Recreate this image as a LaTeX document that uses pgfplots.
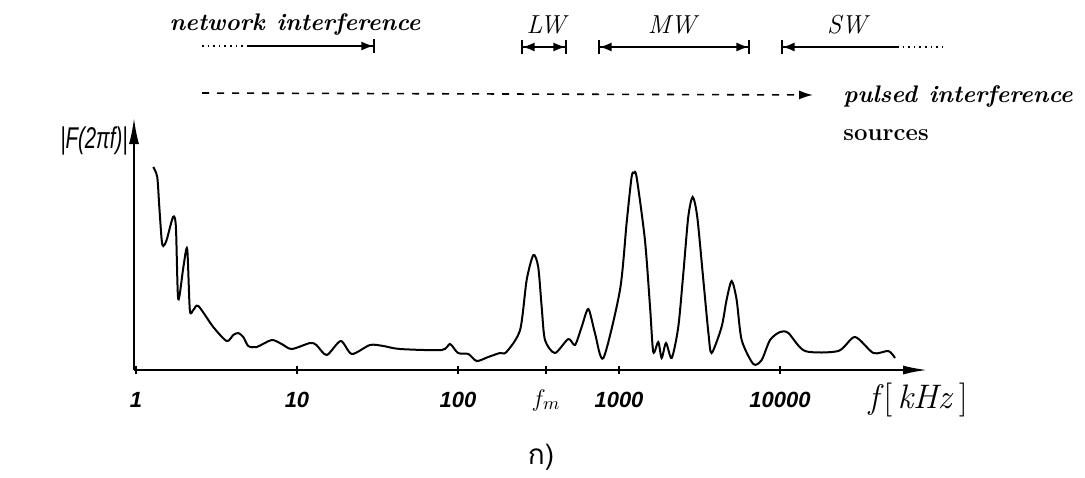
\documentclass[border=0pt]{standalone}
\usepackage{fontspec}
\usepackage{pgfplots}
\pgfplotsset{compat=1.18}
\usetikzlibrary{arrows.meta}
\newfontfamily\tickfont{Liberation Sans}
\newfontfamily\thaifont[Script=Thai]{Loma}

% 1 px of the reference = 0.5pt
\begin{document}
\begin{tikzpicture}
\begin{scope}[x=0.5pt,y=-0.5pt]
  \path[use as bounding box] (0,0) rectangle (1085,477);
\end{scope}
\begin{axis}[at={(67pt,-185pt)}, anchor=south west, scale only axis,
  width=396.5pt, height=126pt,
  xmode=log, xmin=0.972, xmax=81850, ymin=0, ymax=252,
  axis lines=left, clip=false,
  axis line style={line width=0.9pt},
  x axis line style={-{Latex[length=12pt,width=4.5pt]}},
  y axis line style={-{Latex[length=13pt,width=5pt]}},
  ytick=\empty,
  xtick={1,10,100,352,1000,10000},
  xticklabels={1,10,100,{\fontsize{13}{13}\selectfont$f_m$},1000,10000},
  tick align=center, major tick length=4pt,
  tick style={line width=0.8pt, black},
  xticklabel style={font=\tickfont\bfseries\itshape\fontsize{11}{11}\selectfont,
    anchor=center, yshift=-13pt}]
\addplot[black, line width=1pt, smooth, tension=0.45] coordinates {
 (1.28,203) (1.355,193) (1.396,163) (1.444,130) (1.478,124) (1.55,130)
 (1.70,153) (1.77,143) (1.83,71) (1.97,103) (2.08,121) (2.16,60)
 (2.27,60) (2.44,64) (3.02,43) (3.66,29) (4.02,35) (4.32,37) (4.64,33)
 (4.98,24) (5.62,23) (6.96,30) (8.03,26) (9.27,21) (12.05,27) (13.2,25)
 (15.3,15) (18.7,29) (21.9,16) (28.4,25) (34.4,24) (43.6,21) (79.2,20)
 (89.1,26) (100,17) (116,16) (130.7,9) (154,13) (182,17) (200,18)
 (243,40) (267,90) (294,115) (315,103) (331,63) (347,30) (400,17)
 (484,31) (533,25) (586,43) (645,61) (709,37) (800,12) (1014,80)
 (1115,147) (1197,193) (1238,197) (1286,193) (1449,130) (1559,63)
 (1633,18) (1754,28) (1841,12) (1959,27) (2124,12) (2334,43) (2510,97)
 (2692,153) (2868,173) (3063,153) (3340,90) (3592,37) (3760,17)
 (4336,43) (4656,70) (5010,89) (5380,70) (5780,30) (6830,6) (7690,10)
 (8670,30) (10000,38) (11270,37) (14300,19) (23000,19) (29200,33)
 (38000,17) (47100,19) (51800,12)
};
\end{axis}
\begin{scope}[x=0.5pt,y=-0.5pt, line width=0.8pt]
  % band labels
  \node[font=\bfseries\itshape\fontsize{12}{12}\selectfont] at (295,24)
    {network\hspace{6pt}interference};
  \draw[dotted] (202,46) -- (247,46);
  \draw[-{Latex[length=6pt,width=4.5pt]Bar[width=7pt]}] (247,46) -- (375,46);
  \node[font=\itshape\fontsize{13}{13}\selectfont] at (546,25) {LW};
  \draw[{Bar[width=7pt]Latex[length=6pt,width=4.5pt]}-{Latex[length=6pt,width=4.5pt]Bar[width=7pt]}]
    (521,47) -- (567,47);
  \node[font=\itshape\fontsize{13}{13}\selectfont] at (672,25) {MW};
  \draw[{Bar[width=7pt]Latex[length=6pt,width=4.5pt]}-{Latex[length=6pt,width=4.5pt]Bar[width=7pt]}]
    (598,47) -- (750,47);
  \node[font=\itshape\fontsize{13}{13}\selectfont] at (847,25) {SW};
  \draw[{Bar[width=7pt]Latex[length=6pt,width=4.5pt]}-] (781,47) -- (897,47);
  \draw[dotted] (897,47) -- (945,47);
  % pulsed interference
  \draw[dash pattern=on 3.5pt off 4pt, -{Latex[length=7pt,width=4.5pt]}]
    (202,93) -- (813,95);
  \node[anchor=west, font=\bfseries\itshape\fontsize{12}{12}\selectfont]
    at (836,96) {pulsed\hspace{6pt}interference};
  \node[anchor=west, font=\bfseries\fontsize{12}{12}\selectfont]
    at (836,135) {sources};
  % axis labels
  \node[font=\tickfont\itshape\fontsize{15}{15}\selectfont, xscale=0.68]
    at (94,141) {|F(2πf)|};
  \node[font=\fontsize{17}{17}\selectfont] at (918,400)
    {\textit{f}[\,\textit{kHz}\,]};
  \node[font=\thaifont\fontsize{14}{14}\selectfont] at (541,457) {ก)};
\end{scope}
\end{tikzpicture}
\end{document}
